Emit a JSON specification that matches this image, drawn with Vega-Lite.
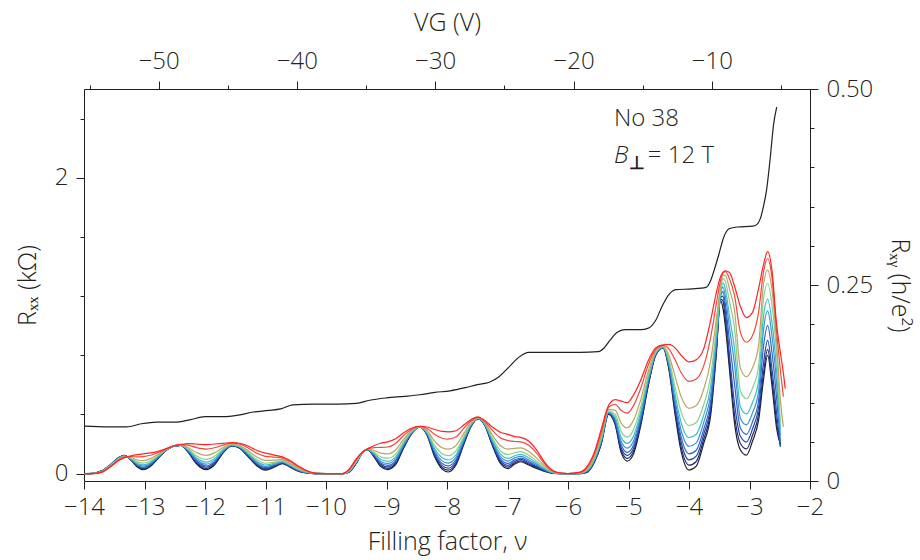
{
"$schema": "https://vega.github.io/schema/vega-lite/v6.json",
"width": 726, "height": 392,
"autosize": {"type": "none"},
"padding": {"left": 84, "top": 89, "right": 110, "bottom": 79},
"background": "white",
"config": {
  "font": "Open Sans",
  "view": {"stroke": null},
  "axis": {"grid": false, "labelColor": "#231f20", "titleColor": "#231f20", "domainColor": "#231f20", "tickColor": "#231f20", "labelFontSize": 24, "titleFontSize": 25, "labelFontWeight": 300, "titleFontWeight": 300, "domainWidth": 1, "tickWidth": 1, "labelFlush": false, "labelOverlap": false}
},
"datasets": {
"rxx": [
{"nu":-14,"c0":0,"c1":0,"c2":0,"c3":0,"c4":0,"c5":0,"c6":0,"c7":0,"c8":0,"c9":0},
{"nu":-13.85,"c0":0.002,"c1":0.002,"c2":0.002,"c3":0.002,"c4":0.002,"c5":0.001,"c6":0.001,"c7":0.001,"c8":0,"c9":0},
{"nu":-13.7,"c0":0.02,"c1":0.02,"c2":0.019,"c3":0.019,"c4":0.018,"c5":0.017,"c6":0.016,"c7":0.014,"c8":0.012,"c9":0.01},
{"nu":-13.55,"c0":0.065,"c1":0.064,"c2":0.064,"c3":0.063,"c4":0.062,"c5":0.061,"c6":0.059,"c7":0.056,"c8":0.053,"c9":0.05},
{"nu":-13.42,"c0":0.11,"c1":0.109,"c2":0.108,"c3":0.107,"c4":0.106,"c5":0.104,"c6":0.102,"c7":0.099,"c8":0.094,"c9":0.09},
{"nu":-13.33,"c0":0.124,"c1":0.123,"c2":0.122,"c3":0.122,"c4":0.12,"c5":0.119,"c6":0.117,"c7":0.115,"c8":0.111,"c9":0.108},
{"nu":-13.22,"c0":0.09,"c1":0.091,"c2":0.093,"c3":0.095,"c4":0.097,"c5":0.099,"c6":0.102,"c7":0.107,"c8":0.115,"c9":0.12},
{"nu":-13.12,"c0":0.045,"c1":0.049,"c2":0.053,"c3":0.057,"c4":0.063,"c5":0.07,"c6":0.079,"c7":0.092,"c8":0.113,"c9":0.128},
{"nu":-13.02,"c0":0.027,"c1":0.032,"c2":0.037,"c3":0.043,"c4":0.051,"c5":0.059,"c6":0.071,"c7":0.088,"c8":0.115,"c9":0.134},
{"nu":-12.9,"c0":0.05,"c1":0.054,"c2":0.059,"c3":0.064,"c4":0.07,"c5":0.077,"c6":0.087,"c7":0.101,"c8":0.124,"c9":0.14},
{"nu":-12.76,"c0":0.11,"c1":0.112,"c2":0.114,"c3":0.116,"c4":0.119,"c5":0.123,"c6":0.127,"c7":0.134,"c8":0.144,"c9":0.152},
{"nu":-12.64,"c0":0.158,"c1":0.158,"c2":0.159,"c3":0.16,"c4":0.16,"c5":0.161,"c6":0.163,"c7":0.164,"c8":0.167,"c9":0.169},
{"nu":-12.5,"c0":0.188,"c1":0.188,"c2":0.188,"c3":0.188,"c4":0.188,"c5":0.189,"c6":0.189,"c7":0.189,"c8":0.19,"c9":0.19},
{"nu":-12.4,"c0":0.19,"c1":0.19,"c2":0.191,"c3":0.191,"c4":0.192,"c5":0.192,"c6":0.193,"c7":0.194,"c8":0.196,"c9":0.197},
{"nu":-12.28,"c0":0.145,"c1":0.148,"c2":0.15,"c3":0.154,"c4":0.158,"c5":0.162,"c6":0.168,"c7":0.177,"c8":0.192,"c9":0.202},
{"nu":-12.15,"c0":0.07,"c1":0.076,"c2":0.082,"c3":0.09,"c4":0.099,"c5":0.109,"c6":0.123,"c7":0.144,"c8":0.177,"c9":0.2},
{"nu":-11.98,"c0":0.027,"c1":0.035,"c2":0.043,"c3":0.052,"c4":0.064,"c5":0.078,"c6":0.096,"c7":0.123,"c8":0.166,"c9":0.196},
{"nu":-11.84,"c0":0.06,"c1":0.066,"c2":0.073,"c3":0.081,"c4":0.091,"c5":0.102,"c6":0.117,"c7":0.14,"c8":0.175,"c9":0.2},
{"nu":-11.7,"c0":0.14,"c1":0.143,"c2":0.146,"c3":0.15,"c4":0.154,"c5":0.16,"c6":0.167,"c7":0.177,"c8":0.193,"c9":0.205},
{"nu":-11.56,"c0":0.187,"c1":0.188,"c2":0.189,"c3":0.19,"c4":0.192,"c5":0.194,"c6":0.196,"c7":0.2,"c8":0.206,"c9":0.21},
{"nu":-11.42,"c0":0.17,"c1":0.172,"c2":0.173,"c3":0.175,"c4":0.178,"c5":0.181,"c6":0.184,"c7":0.19,"c8":0.199,"c9":0.205},
{"nu":-11.3,"c0":0.12,"c1":0.123,"c2":0.126,"c3":0.13,"c4":0.135,"c5":0.14,"c6":0.148,"c7":0.159,"c8":0.176,"c9":0.188},
{"nu":-11.15,"c0":0.055,"c1":0.06,"c2":0.065,"c3":0.07,"c4":0.078,"c5":0.086,"c6":0.097,"c7":0.114,"c8":0.139,"c9":0.158},
{"nu":-11,"c0":0.023,"c1":0.028,"c2":0.034,"c3":0.04,"c4":0.048,"c5":0.058,"c6":0.07,"c7":0.089,"c8":0.117,"c9":0.138},
{"nu":-10.85,"c0":0.045,"c1":0.049,"c2":0.053,"c3":0.057,"c4":0.063,"c5":0.069,"c6":0.078,"c7":0.091,"c8":0.111,"c9":0.125},
{"nu":-10.72,"c0":0.068,"c1":0.07,"c2":0.072,"c3":0.075,"c4":0.078,"c5":0.082,"c6":0.086,"c7":0.094,"c8":0.105,"c9":0.113},
{"nu":-10.6,"c0":0.045,"c1":0.047,"c2":0.049,"c3":0.052,"c4":0.055,"c5":0.059,"c6":0.063,"c7":0.071,"c8":0.082,"c9":0.09},
{"nu":-10.45,"c0":0.015,"c1":0.017,"c2":0.018,"c3":0.02,"c4":0.023,"c5":0.026,"c6":0.029,"c7":0.035,"c8":0.044,"c9":0.05},
{"nu":-10.3,"c0":0.003,"c1":0.004,"c2":0.004,"c3":0.005,"c4":0.006,"c5":0.008,"c6":0.009,"c7":0.012,"c8":0.015,"c9":0.018},
{"nu":-10.18,"c0":0,"c1":0,"c2":0,"c3":0,"c4":0.001,"c5":0.001,"c6":0.001,"c7":0.002,"c8":0.002,"c9":0.003},
{"nu":-10,"c0":0,"c1":0,"c2":0,"c3":0,"c4":0,"c5":0,"c6":0,"c7":0,"c8":0,"c9":0},
{"nu":-9.72,"c0":0,"c1":0,"c2":0,"c3":0,"c4":0,"c5":0,"c6":0,"c7":0,"c8":0,"c9":0},
{"nu":-9.62,"c0":0.01,"c1":0.011,"c2":0.012,"c3":0.013,"c4":0.014,"c5":0.016,"c6":0.018,"c7":0.021,"c8":0.026,"c9":0.03},
{"nu":-9.5,"c0":0.07,"c1":0.071,"c2":0.073,"c3":0.075,"c4":0.077,"c5":0.079,"c6":0.082,"c7":0.087,"c8":0.095,"c9":0.1},
{"nu":-9.4,"c0":0.14,"c1":0.14,"c2":0.14,"c3":0.141,"c4":0.141,"c5":0.142,"c6":0.142,"c7":0.143,"c8":0.144,"c9":0.145},
{"nu":-9.31,"c0":0.162,"c1":0.162,"c2":0.163,"c3":0.163,"c4":0.164,"c5":0.164,"c6":0.165,"c7":0.166,"c8":0.168,"c9":0.169},
{"nu":-9.2,"c0":0.11,"c1":0.114,"c2":0.118,"c3":0.122,"c4":0.128,"c5":0.134,"c6":0.143,"c7":0.156,"c8":0.176,"c9":0.19},
{"nu":-9.1,"c0":0.05,"c1":0.057,"c2":0.065,"c3":0.073,"c4":0.084,"c5":0.097,"c6":0.114,"c7":0.138,"c8":0.177,"c9":0.205},
{"nu":-8.98,"c0":0.027,"c1":0.035,"c2":0.045,"c3":0.055,"c4":0.068,"c5":0.083,"c6":0.104,"c7":0.134,"c8":0.18,"c9":0.214},
{"nu":-8.85,"c0":0.06,"c1":0.068,"c2":0.077,"c3":0.086,"c4":0.099,"c5":0.113,"c6":0.132,"c7":0.16,"c8":0.204,"c9":0.235},
{"nu":-8.72,"c0":0.17,"c1":0.175,"c2":0.18,"c3":0.186,"c4":0.193,"c5":0.202,"c6":0.213,"c7":0.23,"c8":0.256,"c9":0.275},
{"nu":-8.6,"c0":0.26,"c1":0.262,"c2":0.264,"c3":0.267,"c4":0.27,"c5":0.274,"c6":0.278,"c7":0.286,"c8":0.297,"c9":0.305},
{"nu":-8.45,"c0":0.315,"c1":0.315,"c2":0.315,"c3":0.316,"c4":0.316,"c5":0.317,"c6":0.317,"c7":0.318,"c8":0.319,"c9":0.32},
{"nu":-8.33,"c0":0.26,"c1":0.262,"c2":0.265,"c3":0.268,"c4":0.272,"c5":0.277,"c6":0.283,"c7":0.291,"c8":0.305,"c9":0.315},
{"nu":-8.2,"c0":0.11,"c1":0.118,"c2":0.128,"c3":0.138,"c4":0.151,"c5":0.166,"c6":0.187,"c7":0.217,"c8":0.264,"c9":0.298},
{"nu":-8.08,"c0":0.03,"c1":0.041,"c2":0.054,"c3":0.068,"c4":0.086,"c5":0.107,"c6":0.135,"c7":0.175,"c8":0.239,"c9":0.285},
{"nu":-7.98,"c0":0.011,"c1":0.023,"c2":0.037,"c3":0.052,"c4":0.071,"c5":0.092,"c6":0.122,"c7":0.165,"c8":0.233,"c9":0.282},
{"nu":-7.85,"c0":0.06,"c1":0.07,"c2":0.082,"c3":0.095,"c4":0.111,"c5":0.129,"c6":0.154,"c7":0.191,"c8":0.249,"c9":0.29},
{"nu":-7.72,"c0":0.2,"c1":0.206,"c2":0.212,"c3":0.22,"c4":0.229,"c5":0.239,"c6":0.253,"c7":0.274,"c8":0.307,"c9":0.33},
{"nu":-7.6,"c0":0.32,"c1":0.322,"c2":0.324,"c3":0.327,"c4":0.33,"c5":0.334,"c6":0.338,"c7":0.346,"c8":0.357,"c9":0.365},
{"nu":-7.49,"c0":0.37,"c1":0.371,"c2":0.371,"c3":0.372,"c4":0.373,"c5":0.374,"c6":0.375,"c7":0.377,"c8":0.381,"c9":0.383},
{"nu":-7.38,"c0":0.33,"c1":0.331,"c2":0.333,"c3":0.335,"c4":0.337,"c5":0.339,"c6":0.342,"c7":0.347,"c8":0.355,"c9":0.36},
{"nu":-7.25,"c0":0.19,"c1":0.196,"c2":0.202,"c3":0.209,"c4":0.218,"c5":0.228,"c6":0.241,"c7":0.261,"c8":0.293,"c9":0.315},
{"nu":-7.12,"c0":0.07,"c1":0.079,"c2":0.09,"c3":0.102,"c4":0.116,"c5":0.133,"c6":0.156,"c7":0.19,"c8":0.242,"c9":0.28},
{"nu":-6.99,"c0":0.034,"c1":0.044,"c2":0.056,"c3":0.069,"c4":0.085,"c5":0.103,"c6":0.129,"c7":0.166,"c8":0.223,"c9":0.265},
{"nu":-6.88,"c0":0.065,"c1":0.073,"c2":0.083,"c3":0.093,"c4":0.106,"c5":0.121,"c6":0.141,"c7":0.17,"c8":0.217,"c9":0.25},
{"nu":-6.78,"c0":0.08,"c1":0.087,"c2":0.096,"c3":0.105,"c4":0.116,"c5":0.13,"c6":0.148,"c7":0.174,"c8":0.215,"c9":0.245},
{"nu":-6.65,"c0":0.058,"c1":0.065,"c2":0.073,"c3":0.082,"c4":0.094,"c5":0.107,"c6":0.124,"c7":0.15,"c8":0.191,"c9":0.22},
{"nu":-6.52,"c0":0.035,"c1":0.041,"c2":0.047,"c3":0.054,"c4":0.063,"c5":0.073,"c6":0.086,"c7":0.106,"c8":0.138,"c9":0.16},
{"nu":-6.4,"c0":0.017,"c1":0.02,"c2":0.023,"c3":0.027,"c4":0.032,"c5":0.037,"c6":0.045,"c7":0.056,"c8":0.073,"c9":0.085},
{"nu":-6.28,"c0":0.004,"c1":0.005,"c2":0.006,"c3":0.008,"c4":0.01,"c5":0.012,"c6":0.015,"c7":0.019,"c8":0.025,"c9":0.03},
{"nu":-6.15,"c0":0,"c1":0,"c2":0.001,"c3":0.001,"c4":0.001,"c5":0.002,"c6":0.002,"c7":0.003,"c8":0.005,"c9":0.006},
{"nu":-6,"c0":0,"c1":0,"c2":0,"c3":0,"c4":0,"c5":0,"c6":0,"c7":0,"c8":0,"c9":0},
{"nu":-5.8,"c0":0,"c1":0,"c2":0.001,"c3":0.002,"c4":0.002,"c5":0.003,"c6":0.004,"c7":0.006,"c8":0.008,"c9":0.01},
{"nu":-5.68,"c0":0.01,"c1":0.012,"c2":0.014,"c3":0.016,"c4":0.019,"c5":0.022,"c6":0.026,"c7":0.033,"c8":0.043,"c9":0.05},
{"nu":-5.56,"c0":0.08,"c1":0.083,"c2":0.087,"c3":0.091,"c4":0.095,"c5":0.101,"c6":0.109,"c7":0.12,"c8":0.137,"c9":0.15},
{"nu":-5.45,"c0":0.2,"c1":0.205,"c2":0.21,"c3":0.215,"c4":0.222,"c5":0.23,"c6":0.241,"c7":0.257,"c8":0.282,"c9":0.3},
{"nu":-5.33,"c0":0.4,"c1":0.403,"c2":0.406,"c3":0.409,"c4":0.413,"c5":0.418,"c6":0.425,"c7":0.434,"c8":0.449,"c9":0.46},
{"nu":-5.22,"c0":0.33,"c1":0.338,"c2":0.346,"c3":0.356,"c4":0.367,"c5":0.381,"c6":0.4,"c7":0.427,"c8":0.469,"c9":0.5},
{"nu":-5.12,"c0":0.14,"c1":0.156,"c2":0.173,"c3":0.193,"c4":0.217,"c5":0.245,"c6":0.284,"c7":0.34,"c8":0.427,"c9":0.49},
{"nu":-5.02,"c0":0.085,"c1":0.103,"c2":0.123,"c3":0.144,"c4":0.172,"c5":0.204,"c6":0.247,"c7":0.31,"c8":0.409,"c9":0.48},
{"nu":-4.92,"c0":0.13,"c1":0.148,"c2":0.168,"c3":0.19,"c4":0.218,"c5":0.25,"c6":0.294,"c7":0.358,"c8":0.458,"c9":0.53},
{"nu":-4.8,"c0":0.32,"c1":0.334,"c2":0.349,"c3":0.367,"c4":0.388,"c5":0.413,"c6":0.447,"c7":0.497,"c8":0.574,"c9":0.63},
{"nu":-4.67,"c0":0.6,"c1":0.608,"c2":0.616,"c3":0.625,"c4":0.637,"c5":0.65,"c6":0.668,"c7":0.695,"c8":0.737,"c9":0.767},
{"nu":-4.55,"c0":0.8,"c1":0.802,"c2":0.805,"c3":0.808,"c4":0.811,"c5":0.815,"c6":0.821,"c7":0.829,"c8":0.841,"c9":0.85},
{"nu":-4.43,"c0":0.85,"c1":0.851,"c2":0.852,"c3":0.853,"c4":0.854,"c5":0.856,"c6":0.858,"c7":0.861,"c8":0.866,"c9":0.87},
{"nu":-4.33,"c0":0.7,"c1":0.708,"c2":0.716,"c3":0.726,"c4":0.738,"c5":0.752,"c6":0.771,"c7":0.799,"c8":0.842,"c9":0.873},
{"nu":-4.23,"c0":0.4,"c1":0.42,"c2":0.443,"c3":0.468,"c4":0.499,"c5":0.535,"c6":0.585,"c7":0.657,"c8":0.769,"c9":0.85},
{"nu":-4.13,"c0":0.15,"c1":0.179,"c2":0.212,"c3":0.248,"c4":0.293,"c5":0.345,"c6":0.417,"c7":0.521,"c8":0.683,"c9":0.8},
{"nu":-4,"c0":0.024,"c1":0.057,"c2":0.093,"c3":0.134,"c4":0.185,"c5":0.243,"c6":0.324,"c7":0.441,"c8":0.623,"c9":0.755},
{"nu":-3.88,"c0":0.05,"c1":0.082,"c2":0.118,"c3":0.158,"c4":0.208,"c5":0.266,"c6":0.345,"c7":0.46,"c8":0.64,"c9":0.77},
{"nu":-3.76,"c0":0.2,"c1":0.229,"c2":0.261,"c3":0.296,"c4":0.341,"c5":0.392,"c6":0.462,"c7":0.565,"c8":0.725,"c9":0.84},
{"nu":-3.64,"c0":0.4,"c1":0.429,"c2":0.461,"c3":0.496,"c4":0.541,"c5":0.592,"c6":0.662,"c7":0.765,"c8":0.925,"c9":1.04},
{"nu":-3.55,"c0":0.8,"c1":0.819,"c2":0.84,"c3":0.863,"c4":0.892,"c5":0.926,"c6":0.972,"c7":1.039,"c8":1.144,"c9":1.22},
{"nu":-3.48,"c0":1.172,"c1":1.179,"c2":1.187,"c3":1.196,"c4":1.207,"c5":1.219,"c6":1.237,"c7":1.262,"c8":1.302,"c9":1.33},
{"nu":-3.44,"c0":1.12,"c1":1.17,"c2":1.2,"c3":1.23,"c4":1.26,"c5":1.29,"c6":1.32,"c7":1.34,"c8":1.355,"c9":1.36},
{"nu":-3.4,"c0":1.0,"c1":1.05,"c2":1.1,"c3":1.15,"c4":1.2,"c5":1.25,"c6":1.3,"c7":1.34,"c8":1.365,"c9":1.37},
{"nu":-3.33,"c0":0.7,"c1":0.738,"c2":0.795,"c3":0.89,"c4":0.985,"c5":1.061,"c6":1.161,"c7":1.246,"c8":1.316,"c9":1.36},
{"nu":-3.25,"c0":0.35,"c1":0.403,"c2":0.482,"c3":0.615,"c4":0.747,"c5":0.853,"c6":0.992,"c7":1.111,"c8":1.209,"c9":1.27},
{"nu":-3.15,"c0":0.16,"c1":0.204,"c2":0.252,"c3":0.306,"c4":0.373,"c5":0.451,"c6":0.558,"c7":0.713,"c8":0.955,"c9":1.13},
{"nu":-3.05,"c0":0.125,"c1":0.167,"c2":0.213,"c3":0.265,"c4":0.33,"c5":0.404,"c6":0.506,"c7":0.655,"c8":0.888,"c9":1.055},
{"nu":-2.95,"c0":0.22,"c1":0.259,"c2":0.303,"c3":0.351,"c4":0.411,"c5":0.481,"c6":0.577,"c7":0.716,"c8":0.933,"c9":1.09},
{"nu":-2.85,"c0":0.36,"c1":0.4,"c2":0.445,"c3":0.494,"c4":0.556,"c5":0.627,"c6":0.725,"c7":0.867,"c8":1.09,"c9":1.25},
{"nu":-2.77,"c0":0.63,"c1":0.675,"c2":0.742,"c3":0.855,"c4":0.967,"c5":1.057,"c6":1.174,"c7":1.275,"c8":1.359,"c9":1.41},
{"nu":-2.7,"c0":0.8,"c1":0.84,"c2":0.9,"c3":1.0,"c4":1.1,"c5":1.18,"c6":1.285,"c7":1.375,"c8":1.454,"c9":1.5},
{"nu":-2.63,"c0":0.6,"c1":0.645,"c2":0.712,"c3":0.825,"c4":0.937,"c5":1.027,"c6":1.144,"c7":1.245,"c8":1.329,"c9":1.38},
{"nu":-2.55,"c0":0.3,"c1":0.341,"c2":0.401,"c3":0.502,"c4":0.602,"c5":0.683,"c6":0.789,"c7":0.879,"c8":0.954,"c9":1.0},
{"nu":-2.49,"c0":0.2,"c1":0.19,"c2":0.18,"c3":0.22,"c4":0.26,"c5":0.3,"c6":0.35,"c7":0.5,"c8":0.7,"c9":0.82},
{"nu":-2.44,"c7":0.316,"c8":0.52,"c9":0.68},
{"nu":-2.41,"c9":0.576}
],
"hall": [
{"nu":-14,"rxy":0.07},{"nu":-13.6,"rxy":0.069},{"nu":-13.3,"rxy":0.069},{"nu":-13.05,"rxy":0.073},{"nu":-12.8,"rxy":0.075},{"nu":-12.5,"rxy":0.075},{"nu":-12.25,"rxy":0.078},{"nu":-12,"rxy":0.082},{"nu":-11.7,"rxy":0.082},{"nu":-11.45,"rxy":0.084},{"nu":-11.2,"rxy":0.088},{"nu":-10.95,"rxy":0.09},{"nu":-10.75,"rxy":0.092},{"nu":-10.55,"rxy":0.097},{"nu":-10.2,"rxy":0.098},{"nu":-9.8,"rxy":0.098},{"nu":-9.5,"rxy":0.099},{"nu":-9.28,"rxy":0.103},{"nu":-9,"rxy":0.106},{"nu":-8.7,"rxy":0.108},{"nu":-8.45,"rxy":0.11},{"nu":-8.2,"rxy":0.113},{"nu":-7.95,"rxy":0.115},{"nu":-7.7,"rxy":0.119},{"nu":-7.5,"rxy":0.123},{"nu":-7.3,"rxy":0.126},{"nu":-7.14,"rxy":0.133},{"nu":-6.98,"rxy":0.145},{"nu":-6.81,"rxy":0.158},{"nu":-6.65,"rxy":0.164},{"nu":-6.3,"rxy":0.164},{"nu":-5.8,"rxy":0.164},{"nu":-5.5,"rxy":0.165},{"nu":-5.4,"rxy":0.17},{"nu":-5.3,"rxy":0.18},{"nu":-5.18,"rxy":0.19},{"nu":-5.05,"rxy":0.193},{"nu":-4.8,"rxy":0.193},{"nu":-4.67,"rxy":0.195},{"nu":-4.55,"rxy":0.205},{"nu":-4.45,"rxy":0.222},{"nu":-4.33,"rxy":0.238},{"nu":-4.22,"rxy":0.244},{"nu":-3.95,"rxy":0.245},{"nu":-3.72,"rxy":0.247},{"nu":-3.64,"rxy":0.256},{"nu":-3.58,"rxy":0.27},{"nu":-3.51,"rxy":0.288},{"nu":-3.43,"rxy":0.31},{"nu":-3.33,"rxy":0.322},{"nu":-3.2,"rxy":0.324},{"nu":-2.95,"rxy":0.325},{"nu":-2.88,"rxy":0.327},{"nu":-2.82,"rxy":0.335},{"nu":-2.77,"rxy":0.35},{"nu":-2.72,"rxy":0.37},{"nu":-2.66,"rxy":0.41},{"nu":-2.6,"rxy":0.456},{"nu":-2.55,"rxy":0.477}
],
"vg": [{"vg": -50}]
},
"layer": [
 {"layer": [
   {"data": {"name": "rxx"},
    "transform": [{"fold": ["c0","c1","c2","c3","c4","c5","c6","c7","c8","c9"], "as": ["curve","rxx"]}],
    "mark": {"type": "line", "interpolate": "monotone", "strokeWidth": 1.2},
    "encoding": {
      "x": {"field": "nu", "type": "quantitative", "scale": {"domain": [-14,-2], "nice": false, "zero": false},
        "axis": {"orient": "bottom", "title": "Filling factor, ν",
          "values": [-14,-13.75,-13.5,-13.25,-13,-12.75,-12.5,-12.25,-12,-11.75,-11.5,-11.25,-11,-10.75,-10.5,-10.25,-10,-9.75,-9.5,-9.25,-9,-8.75,-8.5,-8.25,-8,-7.75,-7.5,-7.25,-7,-6.75,-6.5,-6.25,-6,-5.75,-5.5,-5.25,-5,-4.75,-4.5,-4.25,-4,-3.75,-3.5,-3.25,-3,-2.75,-2.5,-2.25,-2],
          "labelExpr": "datum.value % 1 === 0 ? format(datum.value, 'd') : ''",
          "tickSize": {"condition": {"test": "datum.value % 1 === 0", "value": 8}, "value": 4},
          "labelPadding": 6, "titlePadding": 10}},
      "y": {"field": "rxx", "type": "quantitative", "scale": {"domain": [-0.05, 2.6], "nice": false, "zero": false},
        "axis": {"orient": "left", "title": "Rₓₓ (kΩ)",
          "values": [0,0.2,0.4,0.6,0.8,1,1.2,1.4,1.6,1.8,2,2.2,2.4],
          "labelExpr": "datum.value % 1 === 0 ? format(datum.value, 'd') : ''",
          "tickSize": {"condition": {"test": "datum.value % 1 === 0", "value": 8}, "value": 4},
          "labelPadding": 8, "titlePadding": 14}},
      "color": {"field": "curve", "type": "nominal",
        "scale": {"domain": ["c0","c1","c2","c3","c4","c5","c6","c7","c8","c9"],
                  "range": ["#231f20","#1d2a7a","#2446a8","#2f66c8","#3a93d4","#3cbfc6","#8ccf8c","#bca462","#ef4a3c","#ff2222"]},
        "legend": null}
    }},
   {"data": {"values": [{}]}, "mark": {"type": "text", "text": "No 38", "align": "left", "baseline": "middle", "fontSize": 24, "fontWeight": 300, "color": "#231f20"},
    "encoding": {"x": {"datum": -5.24, "type": "quantitative"}, "y": {"datum": 2.4, "type": "quantitative"}}},
   {"data": {"values": [{}]}, "mark": {"type": "text", "text": "B", "align": "left", "baseline": "middle", "fontSize": 24, "fontWeight": 300, "fontStyle": "italic", "color": "#231f20"},
    "encoding": {"x": {"datum": -5.24, "type": "quantitative"}, "y": {"datum": 2.15, "type": "quantitative"}}},
   {"data": {"values": [{}]}, "mark": {"type": "text", "text": "⊥", "align": "center", "baseline": "middle", "fontSize": 18, "fontWeight": "bold", "color": "#231f20"},
    "encoding": {"x": {"datum": -4.86, "type": "quantitative"}, "y": {"datum": 2.09, "type": "quantitative"}}},
   {"data": {"values": [{}]}, "mark": {"type": "text", "text": "= 12 T", "align": "left", "baseline": "middle", "fontSize": 24, "fontWeight": 300, "color": "#231f20"},
    "encoding": {"x": {"datum": -4.68, "type": "quantitative"}, "y": {"datum": 2.15, "type": "quantitative"}}}
 ]},
 {"data": {"name": "hall"},
  "mark": {"type": "line", "interpolate": "monotone", "strokeWidth": 1.2, "color": "#231f20"},
  "encoding": {
    "x": {"field": "nu", "type": "quantitative", "scale": {"domain": [-14,-2], "nice": false, "zero": false}, "axis": null},
    "y": {"field": "rxy", "type": "quantitative", "scale": {"domain": [0, 0.5], "nice": false, "zero": false},
      "axis": {"orient": "right", "title": "Rₓᵧ (h/e²)",
        "values": [0,0.05,0.1,0.15,0.2,0.25,0.3,0.35,0.4,0.45,0.5],
        "labelExpr": "datum.value === 0 ? '0' : datum.value === 0.25 ? '0.25' : datum.value === 0.5 ? '0.50' : ''",
        "tickSize": {"condition": {"test": "datum.value === 0 || datum.value === 0.25 || datum.value === 0.5", "value": 8}, "value": 4},
        "labelPadding": 8, "titlePadding": 14}}
  }},
 {"data": {"name": "vg"},
  "mark": {"type": "rule", "opacity": 0},
  "encoding": {
    "x": {"field": "vg", "type": "quantitative", "scale": {"domain": [-55.4, -2.9], "nice": false, "zero": false},
      "axis": {"orient": "top", "title": "VG (V)",
        "values": [-55,-50,-45,-40,-35,-30,-25,-20,-15,-10,-5],
        "labelExpr": "datum.value % 10 === 0 ? datum.label : ''",
        "tickSize": {"condition": {"test": "datum.value % 10 === 0", "value": 8}, "value": 4},
        "labelPadding": 8, "titlePadding": 14}}
  }}
],
"resolve": {"scale": {"x": "independent", "y": "independent"}}
}
